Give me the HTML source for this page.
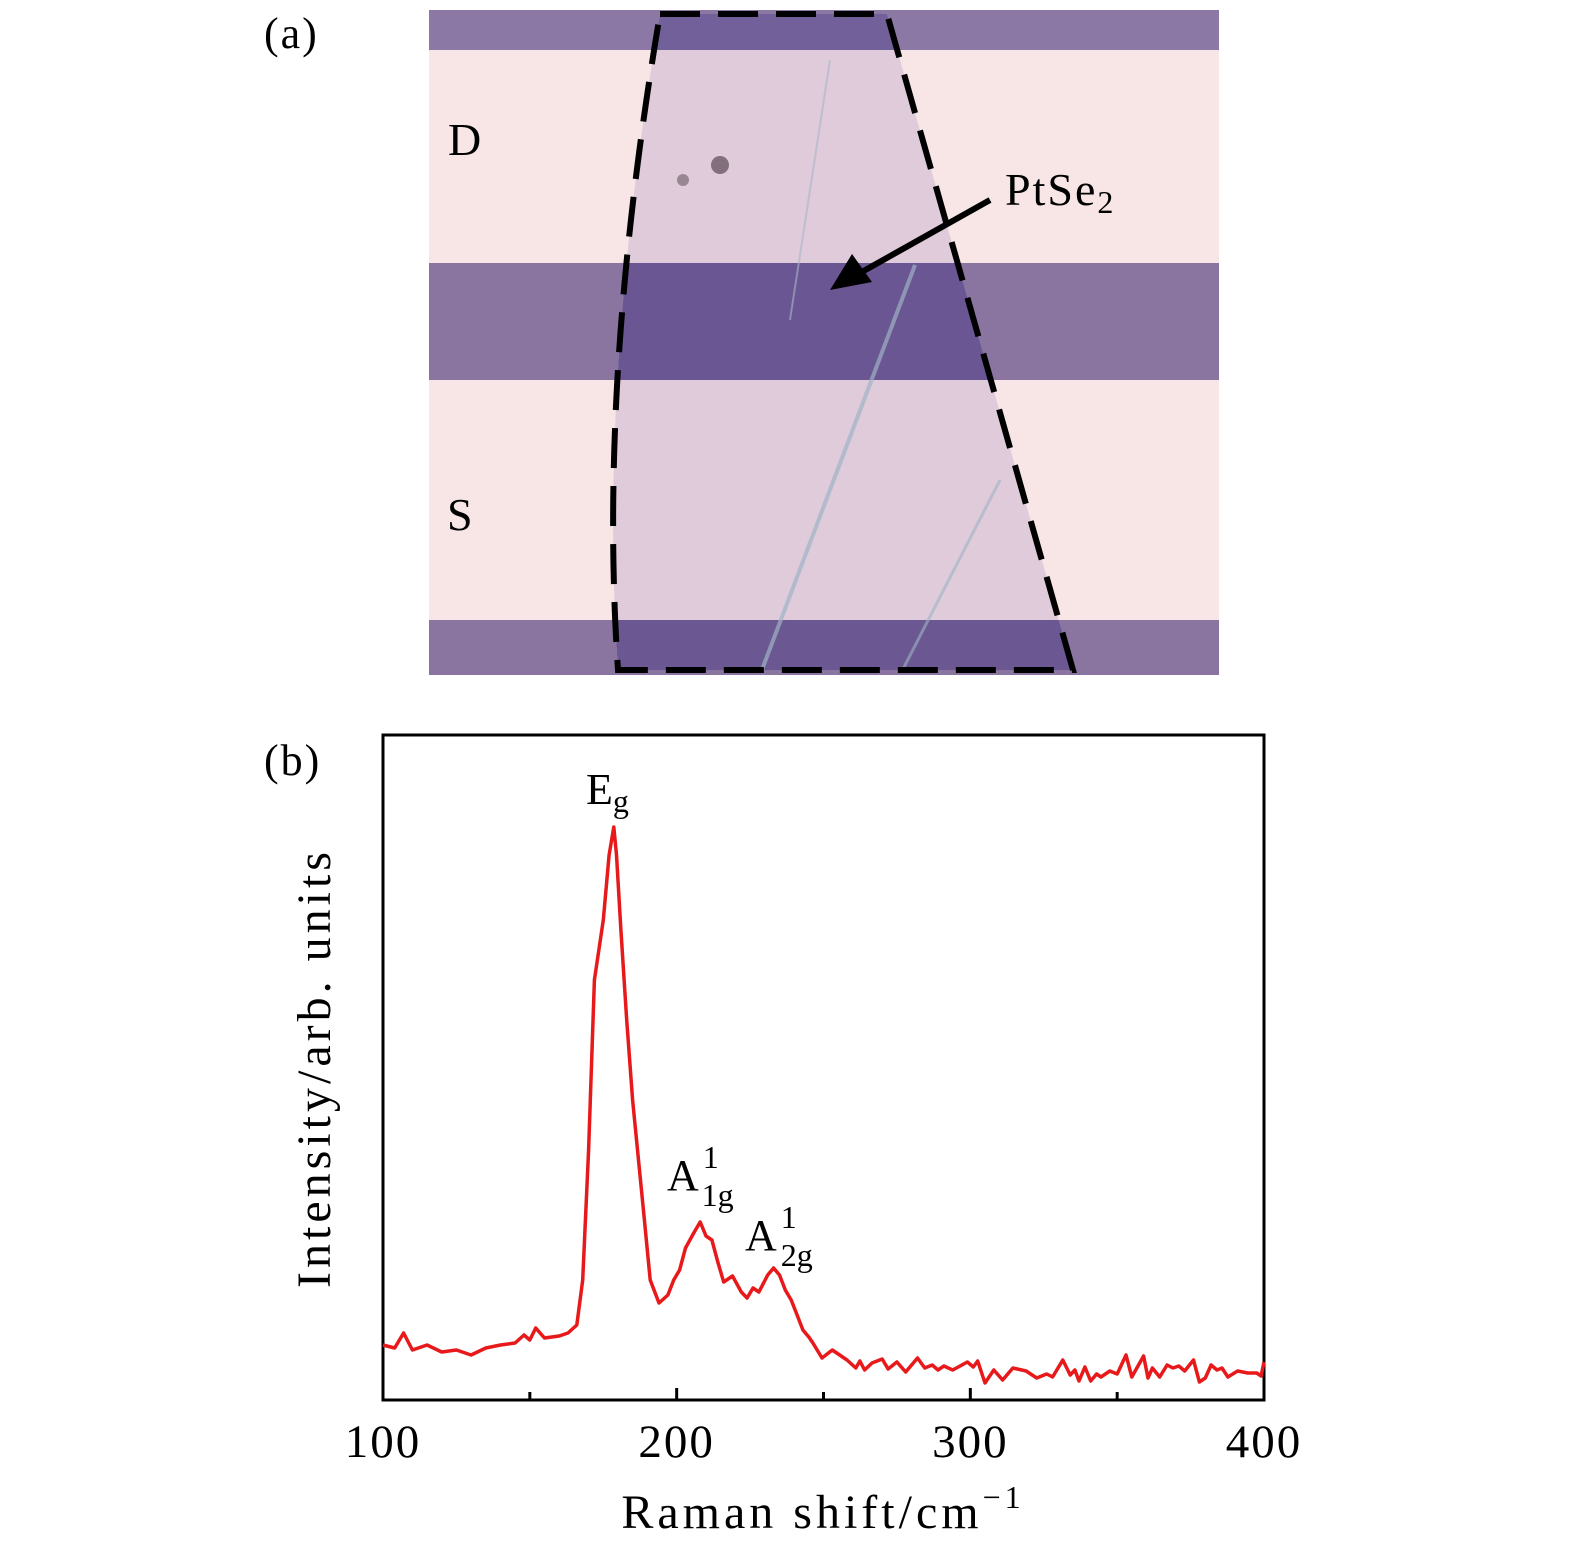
<!DOCTYPE html>
<html><head><meta charset="utf-8"><style>
body{margin:0;background:#fff;width:1575px;height:1555px;overflow:hidden}
svg text{font-family:"Liberation Serif",serif;fill:#000}
</style></head><body>
<svg width="1575" height="1555" viewBox="0 0 1575 1555">
<g>
<rect x="429" y="10" width="790" height="665" fill="#f8e6e6"/>
<rect x="429" y="10" width="790" height="40" fill="#8c78a4"/>
<rect x="429" y="263" width="790" height="117" fill="#8a74a0"/>
<rect x="429" y="620" width="790" height="55" fill="#8a74a0"/>
<clipPath id="flk"><path d="M660,14 L887,14 L1073,670 L618,670 Q598,380 660,14Z"/></clipPath>
<g clip-path="url(#flk)">
<rect x="590" y="10" width="500" height="665" fill="#dfcbda"/>
<rect x="590" y="10" width="500" height="40" fill="#72609a"/>
<rect x="590" y="263" width="500" height="117" fill="#6a5692"/>
<rect x="590" y="620" width="500" height="55" fill="#6b5792"/>
<path d="M915,265 L760,675" stroke="#9fb2c4" stroke-width="4" fill="none" opacity="0.7"/>
<path d="M1000,480 L900,675" stroke="#9fb2c4" stroke-width="3" fill="none" opacity="0.6"/>
<path d="M830,60 L790,320" stroke="#a9b6c8" stroke-width="2" fill="none" opacity="0.6"/>
<circle cx="720" cy="165" r="9" fill="#5a4a55" opacity="0.7"/>
<circle cx="683" cy="180" r="6" fill="#6a5a66" opacity="0.6"/>
</g>
<path d="M660,14 L887,14 L1073,670 L618,670 Q598,380 660,14Z" fill="none" stroke="#000" stroke-width="6" stroke-dasharray="40,18"/>
<line x1="990" y1="200" x2="860" y2="273" stroke="#000" stroke-width="6"/>
<polygon points="830,290 852,254 872,282" fill="#000"/>
<text x="1005" y="205" font-size="46" letter-spacing="2">PtSe<tspan font-size="32" dy="8">2</tspan></text>
<text x="448" y="155" font-size="46">D</text>
<text x="447" y="530" font-size="46">S</text>
</g>
<text x="264" y="48" font-size="44" letter-spacing="2">(a)</text>
<text x="264" y="775" font-size="44" letter-spacing="2">(b)</text>
<g id="chart"></g>
</svg>
<script>
const shifts=[100,104,107,110,115,120,125,130,135,140,145,148,150,152,155,160,163,166,168,170,172,175,177,178.6,179.5,181,183,185,187,189,191,194,197,199,201,203,206,208,210,212,214,216,219,222,224,226,228,231,233,235,237,239,241,243,245,246.4,249.5,253,258,261,262.4,264,266.5,270,272,275,278,282,284.5,287,289,291,294,299,301,302.5,305,308,311,314.5,319,322.6,326,328,331.5,334,335.6,337,339,341,343,344.5,347.5,350,353,355,359,360.5,362,364.5,367,369,371,373,376,378,380,382,384,385.7,387.7,391,394.5,397.5,399,400];
const intensity=[55,52,67,50,55,48,50,45,52,55,57,65,60,72,62,64,67,75,120,250,420,480,545,573,545,470,380,300,240,180,120,97,105,120,130,152,168,178,164,160,138,118,124,108,102,112,108,125,132,125,110,100,85,70,63,57,42,50,40,32,39,30,37,41,31,38,28,42,32,35,30,34,30,38,33,39,17,30,20,32,29,22,26,23,40,25,30,19,33,19,26,23,29,26,45,23,44,22,32,23,35,32,34,29,40,18,22,35,30,32,23,29,27,27,24,38];
const xTicks=[100,200,300,400];
const xMinor=[150,250,350];
const X0=383,X1=1264,Y0=1400,Y1=735,xmin=100,xmax=400,ymax=665;
const xs=v=>X0+(v-xmin)/(xmax-xmin)*(X1-X0);
const ys=v=>Y0-v/ymax*(Y0-Y1);
const NS="http://www.w3.org/2000/svg";
const g=document.getElementById('chart');
function mk(t,a){const e=document.createElementNS(NS,t);for(const k in a)e.setAttribute(k,a[k]);g.appendChild(e);return e;}
const frame=mk('rect',{x:X0,y:Y1,width:X1-X0,height:Y0-Y1,fill:'none',stroke:'#000','stroke-width':3});


xTicks.forEach(v=>{
 const t=mk('line',{x1:xs(v),x2:xs(v),y1:Y0,y2:Y0-12,stroke:'#000','stroke-width':3});
 
 
 const l=mk('text',{x:xs(v),y:1457,'font-size':47,'text-anchor':'middle','letter-spacing':2});l.textContent=v;
 
 
});
xMinor.forEach(v=>{
 const t=mk('line',{x1:xs(v),x2:xs(v),y1:Y0,y2:Y0-8,stroke:'#000','stroke-width':3});
 
 
});
const d=shifts.map((s,i)=>(i?'L':'M')+xs(s).toFixed(1)+','+ys(intensity[i]).toFixed(1)).join(' ');
const p=mk('path',{d:d,fill:'none',stroke:'#e8191a','stroke-width':3.5,'stroke-linejoin':'round'});


const xt=mk('text',{x:823,y:1528,'font-size':48,'text-anchor':'middle','letter-spacing':4});
xt.innerHTML='Raman shift/cm<tspan font-size="32" dy="-20">−1</tspan>';


const yt=mk('text',{x:0,y:0,'font-size':48,'text-anchor':'middle','letter-spacing':4,transform:'translate(330,1068) rotate(-90)'});
yt.textContent='Intensity/arb. units';


const a1=mk('text',{x:586,y:804,'font-size':44});
a1.innerHTML='E<tspan font-size="32" dy="8">g</tspan>';


const a2=mk('text',{x:667,y:1190,'font-size':44});
a2.innerHTML='A<tspan font-size="32" dx="4" dy="-22">1</tspan><tspan font-size="32" dx="-16" dy="38">1g</tspan>';


const a3=mk('text',{x:745,y:1250,'font-size':44});
a3.innerHTML='A<tspan font-size="32" dx="4" dy="-22">1</tspan><tspan font-size="32" dx="-16" dy="38">2g</tspan>';


</script>
</body></html>
